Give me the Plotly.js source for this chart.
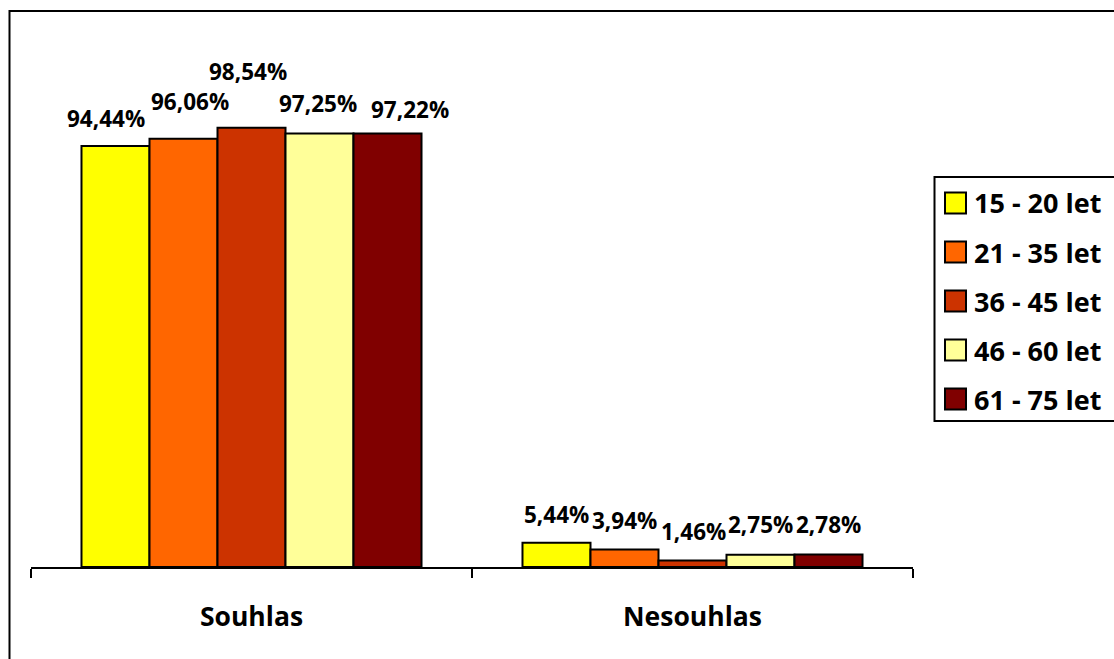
<!DOCTYPE html>
<html>
<head>
<meta charset="utf-8">
<script src="https://cdn.plot.ly/plotly-3.0.1.min.js"></script>
<style>
  html, body { margin: 0; padding: 0; background: #fff; }
  #myDiv { width: 1114px; height: 659px; }
</style>
</head>
<body>
<div id="myDiv"></div>
<script>
var categories = ['Souhlas', 'Nesouhlas'];
var groups = ['15 - 20 let', '21 - 35 let', '36 - 45 let', '46 - 60 let', '61 - 75 let'];
var v15_20 = [94.44, 5.44];
var v21_35 = [96.06, 3.94];
var v36_45 = [98.54, 1.46];
var v46_60 = [97.25, 2.75];
var v61_75 = [97.22, 2.78];
var values = [v15_20, v21_35, v36_45, v46_60, v61_75];
var colors = ['#FFFF00', '#FF6600', '#CC3300', '#FFFF99', '#800000'];

// label offsets (px) as placed in the original: per series, per category
var labelDx = [[-9, 0], [7, 0], [-4, 1], [-2, 0], [22, 0]];
var labelDy = [[27, 28], [37, 29], [56, 29], [30, 30], [24, 30]];

var L = 31, R = 201, T = 32, B = 92;
var W = 1114 - L - R, H = 659 - T - B;
var bargap = 0.229;
var barPx = (W / categories.length) * (1 - bargap) / groups.length;
function px2x(px) { return (px - L) / W; }
function px2y(py) { return (659 - B - py) / H; }

var font = 'Open Sans, Noto Sans, sans-serif';

var data = groups.map(function (g, i) {
  return {
    type: 'bar',
    name: g,
    x: categories,
    y: values[i],
    marker: { color: colors[i], line: { color: '#000', width: 2 } },
    showlegend: false,
    hoverinfo: 'name+y'
  };
});

var annotations = [];
var shapes = [];
groups.forEach(function (g, i) {
  categories.forEach(function (c, j) {
    annotations.push({
      x: c, y: values[i][j], xref: 'x', yref: 'y',
      text: values[i][j].toFixed(2).replace('.', ',') + '%',
      showarrow: false,
      xshift: (i - 2) * barPx + labelDx[i][j],
      yshift: labelDy[i][j],
      yanchor: 'middle',
      font: { family: font, size: 22.5, color: '#000', weight: 'bold' }
    });
  });
  // legend entry
  var cy = 203 + i * 49;
  shapes.push({
    type: 'rect', xref: 'paper', yref: 'paper',
    x0: px2x(945), x1: px2x(966), y0: px2y(cy + 10.5), y1: px2y(cy - 10.5),
    fillcolor: colors[i], line: { color: '#000', width: 2 }
  });
  annotations.push({
    xref: 'paper', yref: 'paper', x: px2x(972), y: px2y(cy),
    xanchor: 'left', yanchor: 'middle', showarrow: false,
    text: g,
    font: { family: font, size: 27, color: '#000', weight: 'bold' }
  });
});

// outer chart border and legend box
shapes.push({
  type: 'rect', xref: 'paper', yref: 'paper', layer: 'below',
  x0: px2x(9.5), x1: px2x(1130), y0: px2y(700), y1: px2y(11),
  line: { color: '#000', width: 2 }, fillcolor: 'rgba(0,0,0,0)'
});
shapes.push({
  type: 'rect', xref: 'paper', yref: 'paper', layer: 'below',
  x0: px2x(934.5), x1: px2x(1130), y0: px2y(421), y1: px2y(177),
  line: { color: '#000', width: 2 }, fillcolor: 'rgba(0,0,0,0)'
});

var layout = {
  width: 1114,
  height: 659,
  margin: { l: L, r: R, t: T, b: B },
  paper_bgcolor: '#fff',
  plot_bgcolor: '#fff',
  barmode: 'group',
  bargap: bargap,
  bargroupgap: 0,
  showlegend: false,
  font: { family: font, color: '#000' },
  xaxis: {
    type: 'category',
    showline: true, linecolor: '#000', linewidth: 2,
    ticks: 'outside', tickson: 'boundaries', ticklen: 9, tickwidth: 2, tickcolor: '#000',
    ticklabelstandoff: 25,
    tickfont: { family: font, size: 26.5, color: '#000', weight: 'bold' },
    showgrid: false, zeroline: false
  },
  yaxis: {
    range: [0, 120],
    visible: false,
    showgrid: false, zeroline: false
  },
  annotations: annotations,
  shapes: shapes
};

Plotly.newPlot('myDiv', data, layout, { displayModeBar: false });
</script>
</body>
</html>
